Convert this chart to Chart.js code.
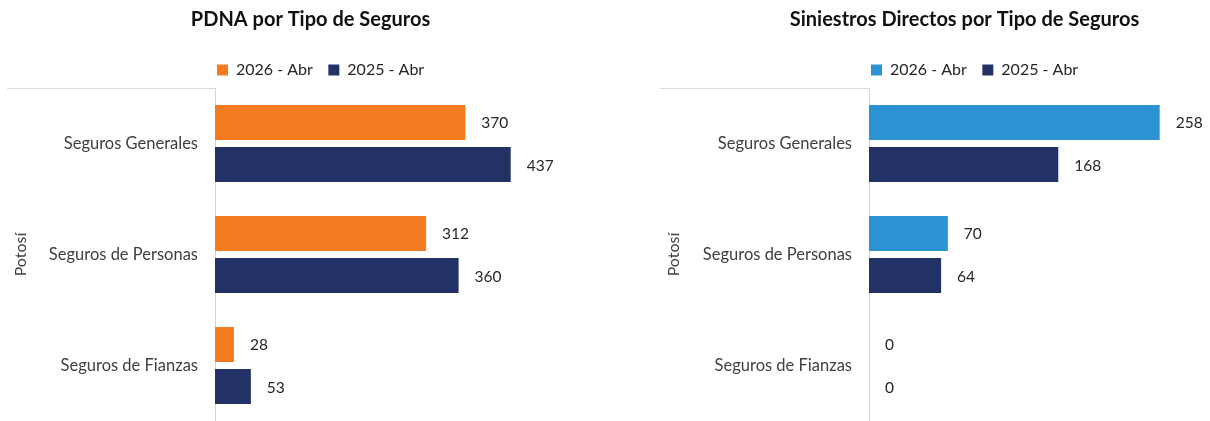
<!DOCTYPE html>
<html>
<head>
<meta charset="utf-8">
<script src="https://cdn.jsdelivr.net/npm/chart.js@4.4.1/dist/chart.umd.min.js"></script>
<style>
    html, body { margin: 0; padding: 0; background: #fff; }
    body { width: 1210px; height: 421px; position: relative; overflow: hidden; }
    .chart-box { position: absolute; top: 0; height: 421px; }
    #pdnaBox { left: 0; width: 624px; }
    #siniestrosBox { left: 653px; width: 557px; }
</style>
</head>
<body>
<div class="chart-box" id="pdnaBox"><canvas id="pdnaChart"></canvas></div>
<div class="chart-box" id="siniestrosBox"><canvas id="siniestrosChart"></canvas></div>

<script>
// Data
const categories = ["Seguros Generales", "Seguros de Personas", "Seguros de Fianzas"];
const seriesLabels = ["2026 - Abr", "2025 - Abr"];
const regionLabel = "Potosí";

const pdna2026 = [370, 312, 28];
const pdna2025 = [437, 360, 53];

const siniestros2026 = [258, 70, 0];
const siniestros2025 = [168, 64, 0];

// Colours
const ORANGE = "#F47B20";
const LIGHT_BLUE = "#2C93D3";
const NAVY = "#233266";
const FONT = "Lato";

// Value next to the end of each bar
const valueLabels = {
    id: "valueLabels",
    afterDatasetsDraw(chart) {
        const ctx = chart.ctx;
        ctx.save();
        ctx.font = `15.5px ${FONT}`;
        ctx.fillStyle = "#262626";
        ctx.textAlign = "left";
        ctx.textBaseline = "middle";
        chart.data.datasets.forEach((ds, di) => {
            const meta = chart.getDatasetMeta(di);
            meta.data.forEach((bar, i) => {
                ctx.fillText(String(ds.data[i]), bar.x + 16, bar.y + 1);
            });
        });
        ctx.restore();
    }
};

// Light line over the category labels, like a grouped category axis
const axisBracket = {
    id: "axisBracket",
    beforeDatasetsDraw(chart) {
        const { ctx, chartArea } = chart;
        ctx.save();
        ctx.strokeStyle = "#d9d9de";
        ctx.lineWidth = 1;
        ctx.beginPath();
        ctx.moveTo(7, chartArea.top + 0.5);
        ctx.lineTo(chartArea.left, chartArea.top + 0.5);
        ctx.stroke();
        ctx.restore();
    }
};

// Nudge title and legend sideways after layout
const placeBoxes = {
    id: "placeBoxes",
    afterLayout(chart, args, opts) {
        const t = chart.titleBlock;
        const l = chart.legend;
        if (t && opts.titleDx) { t.left += opts.titleDx; t.right += opts.titleDx; }
        if (l && opts.legendDx) { l.left += opts.legendDx; l.right += opts.legendDx; }
    }
};

function buildChart(canvasId, titleText, values2026, values2025, color2026, xMax, axisWidth, titleDx) {
    const ctx = document.getElementById(canvasId).getContext("2d");
    return new Chart(ctx, {
        type: "bar",
        data: {
            labels: categories,
            datasets: [
                {
                    label: seriesLabels[0],
                    data: values2026,
                    backgroundColor: color2026,
                    categoryPercentage: 0.757,
                    barPercentage: 0.833,
                },
                {
                    label: seriesLabels[1],
                    data: values2025,
                    backgroundColor: NAVY,
                    categoryPercentage: 0.757,
                    barPercentage: 0.833,
                },
            ],
        },
        options: {
            indexAxis: "y",
            responsive: true,
            maintainAspectRatio: false,
            animation: false,
            layout: { padding: { left: 0, right: 3, top: 0, bottom: 0 } },
            scales: {
                x: { display: false, min: 0, max: xMax },
                y: {
                    grid: { display: false, drawTicks: false },
                    border: { display: true, color: "#d4d4dc", width: 1 },
                    ticks: {
                        padding: 17,
                        color: "#404040",
                        font: { family: FONT, size: 16.5 },
                    },
                    title: {
                        display: true,
                        text: regionLabel,
                        color: "#404040",
                        font: { family: FONT, size: 16 },
                        padding: { top: 11, bottom: 0 },
                    },
                    afterFit(scale) {
                        // fixed label column, and let the bars run to the bottom edge
                        scale.width = axisWidth;
                        scale.paddingTop = 0;
                        scale.paddingBottom = 0;
                    },
                },
            },
            plugins: {
                title: {
                    display: true,
                    text: titleText,
                    color: "#111111",
                    font: { family: FONT, size: 20, weight: "bold" },
                    padding: { top: 8, bottom: 14.5 },
                },
                legend: {
                    display: true,
                    position: "top",
                    align: "start",
                    fullSize: false,
                    labels: {
                        boxWidth: 11,
                        boxHeight: 11,
                        padding: 15.5,
                        color: "#262626",
                        font: { family: FONT, size: 16 },
                    },
                },
                tooltip: { enabled: false },
                placeBoxes: { titleDx: titleDx, legendDx: -13.5 },
            },
        },
        plugins: [valueLabels, axisBracket, placeBoxes],
    });
}

document.addEventListener("DOMContentLoaded", () => {
    buildChart("pdnaChart", "PDNA por Tipo de Seguros", pdna2026, pdna2025, ORANGE, 600, 215, 0);
    buildChart("siniestrosChart", "Siniestros Directos por Tipo de Seguros", siniestros2026, siniestros2025, LIGHT_BLUE, 300, 216, 34.5);
});
</script>
</body>
</html>
